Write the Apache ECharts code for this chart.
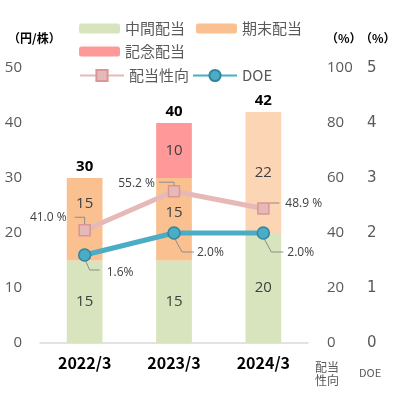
<!DOCTYPE html>
<html><head><meta charset="utf-8">
<script src="https://cdn.jsdelivr.net/npm/echarts@6/dist/echarts.min.js"></script>
<style>html,body{margin:0;padding:0;background:#fff}#c{width:394px;height:414px}</style>
</head><body><div id="c"></div>
<script>
const categories = ['2022/3', '2023/3', '2024/3'];
const interim = [15, 15, 20];
const yearEnd = [15, 15, 22];
const commemorative = [null, 10, null];
const payoutRatio = [41.0, 55.2, 48.9];
const doe = [1.6, 2.0, 2.0];
const leftTicks = [0, 10, 20, 30, 40, 50];

const totals = categories.map((c, i) => (interim[i] || 0) + (yearEnd[i] || 0) + (commemorative[i] || 0));

const JP = '"Noto Sans CJK JP", "Noto Sans", sans-serif';
const NUM = '"Open Sans", "Noto Sans CJK JP", sans-serif';
const txt = '#404040';
const axisTxt = '#595959';

const yearEndColors = ['#fac090', '#fac090', '#fcd5b5'];
const yearEndOffsets = [[0, -16], [0, -7], [0, 0]];

// label leader-line styling (pixel offsets relative to each point)
const payoutGuides = [
  { pts: [[0, -6], [0, -13], [-10, -13]], tx: -18, ty: -13, align: 'right' },
  { pts: [[0, -6], [0, -9], [-15, -9]], tx: -19, ty: -8, align: 'right' },
  { pts: [[3, -3], [7, -5.5], [16, -5.5]], tx: 22, ty: -5, align: 'left' }
];
const doeGuides = [
  { pts: [[1, 6], [5, 15], [15, 15]], tx: 22, ty: 18, align: 'left' },
  { pts: [[1, 6], [8, 19], [20, 19]], tx: 23, ty: 20, align: 'left' },
  { pts: [[1, 6], [8, 19], [20, 19]], tx: 24, ty: 20, align: 'left' }
];

function guideRenderer(guides, fmt) {
  return function (params, api) {
    const i = params.dataIndex;
    const p = api.coord([api.value(0), api.value(1)]);
    const g = guides[i];
    return {
      type: 'group',
      children: [
        { type: 'polyline', shape: { points: g.pts.map(o => [p[0] + o[0], p[1] + o[1]]) },
          style: { stroke: '#8c8c8c', lineWidth: 1, fill: null } },
        { type: 'text', x: p[0] + g.tx, y: p[1] + g.ty,
          style: { text: fmt(api.value(1)), font: '12px ' + NUM, fill: txt, align: g.align, verticalAlign: 'middle' } }
      ]
    };
  };
}

const chart = echarts.init(document.getElementById('c'));
const barLabel = { show: true, position: 'inside', color: txt, fontSize: 15, fontFamily: NUM };

chart.setOption({
  animation: false,
  textStyle: { fontFamily: JP },
  grid: { left: 40, right: 86, top: 68, bottom: 71 },
  legend: [
    { left: 74, top: 16, itemWidth: 41, itemHeight: 10, itemGap: 11, data: ['中間配当', '期末配当'],
      textStyle: { fontSize: 15, color: axisTxt, fontFamily: JP }, selectedMode: false },
    { left: 74, top: 39, itemWidth: 41, itemHeight: 10, data: ['記念配当'],
      textStyle: { fontSize: 15, color: axisTxt, fontFamily: JP }, selectedMode: false },
    { left: 74, top: 63, itemWidth: 44, itemHeight: 14, itemGap: 3, data: ['配当性向', 'DOE'],
      textStyle: { fontSize: 15, color: axisTxt, fontFamily: JP }, selectedMode: false }
  ],
  xAxis: {
    type: 'category', data: categories,
    axisLine: { lineStyle: { color: '#d9d9d9', width: 1.5 } },
    axisTick: { show: false },
    axisLabel: { margin: 12, fontSize: 16, fontWeight: 'bold', color: '#000', fontFamily: JP }
  },
  yAxis: [
    { type: 'value', min: 0, max: 50, interval: 10, position: 'left',
      axisLine: { show: false }, axisTick: { show: false }, splitLine: { show: false },
      axisLabel: { margin: 18, fontSize: 15, color: axisTxt, fontFamily: NUM,
        formatter: v => leftTicks.includes(v) ? String(v) : '' } },
    { type: 'value', min: 0, max: 100, interval: 20, position: 'right',
      axisLine: { show: false }, axisTick: { show: false }, splitLine: { show: false },
      axisLabel: { margin: 19, fontSize: 15, color: axisTxt, fontFamily: NUM } },
    { type: 'value', min: 0, max: 5, interval: 1, position: 'right', offset: 40,
      axisLine: { show: false }, axisTick: { show: false }, splitLine: { show: false },
      axisLabel: { margin: 19, fontSize: 15, color: axisTxt, fontFamily: '"DejaVu Sans", sans-serif' } }
  ],
  graphic: [
    { type: 'text', left: 8, top: 32, style: { text: '（円/株）', font: 'bold 12px ' + JP, fill: '#000' } },
    { type: 'text', left: 326, top: 32, style: { text: '（%）', font: 'bold 12px ' + JP, fill: '#000' } },
    { type: 'text', left: 360, top: 32, style: { text: '（%）', font: 'bold 12px ' + JP, fill: '#000' } },
    { type: 'text', left: 315, top: 361, style: { text: '配当\n性向', font: '12px ' + JP, fill: axisTxt, lineHeight: 13 } },
    { type: 'text', left: 359, top: 367, style: { text: 'DOE', font: '11px ' + JP, fill: axisTxt } }
  ],
  series: [
    { name: '中間配当', type: 'bar', stack: 'div', barWidth: '40%', data: interim,
      itemStyle: { color: '#d7e4bd' }, label: barLabel },
    { name: '期末配当', type: 'bar', stack: 'div', barWidth: '40%',
      data: yearEnd.map((v, i) => ({ value: v, itemStyle: { color: yearEndColors[i] }, label: { offset: yearEndOffsets[i] } })),
      itemStyle: { color: '#fac090' }, label: barLabel },
    { name: '記念配当', type: 'bar', stack: 'div', barWidth: '40%', data: commemorative,
      itemStyle: { color: '#ff9999' }, label: barLabel },
    { name: 'total', type: 'bar', stack: 'div', barWidth: '40%', data: totals.map(() => 0),
      itemStyle: { color: 'transparent' },
      label: { show: true, position: 'top', distance: 4, fontSize: 15, fontWeight: 'bold', color: '#000', fontFamily: NUM,
        formatter: p => String(totals[p.dataIndex]) } },
    { name: '配当性向ラベル', type: 'custom', yAxisIndex: 1, z: 4, silent: true,
      data: payoutRatio.map((v, i) => [i, v]),
      renderItem: guideRenderer(payoutGuides, v => v.toFixed(1) + ' %') },
    { name: 'DOEラベル', type: 'custom', yAxisIndex: 2, z: 4, silent: true,
      data: doe.map((v, i) => [i, v]),
      renderItem: guideRenderer(doeGuides, v => v.toFixed(1) + '%') },
    { name: '配当性向', type: 'line', yAxisIndex: 1, z: 5, data: payoutRatio,
      lineStyle: { color: '#e6b9b8', width: 5 },
      itemStyle: { color: '#e6b9b8', borderColor: '#d99694', borderWidth: 1.5 },
      symbol: 'rect', symbolSize: 11 },
    { name: 'DOE', type: 'line', yAxisIndex: 2, z: 6, data: doe,
      lineStyle: { color: '#4bacc6', width: 5 },
      itemStyle: { color: '#4bacc6', borderColor: '#31859c', borderWidth: 1.5 },
      symbol: 'circle', symbolSize: 12 }
  ]
});
</script></body></html>
